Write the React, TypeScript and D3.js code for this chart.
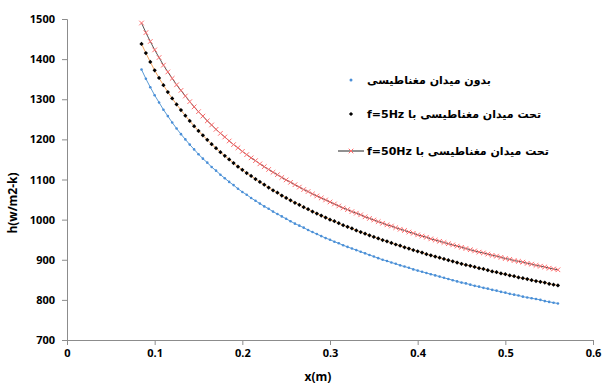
import * as d3 from 'd3';
import React, { useEffect, useRef } from 'react';

// x positions: 0.085 .. 0.56, step 0.005 (96 points)
const xValues: number[] = [
  0.085, 0.09, 0.095, 0.1, 0.105, 0.11, 0.115, 0.12, 0.125, 0.13, 0.135, 0.14, 0.145, 0.15, 0.155, 0.16,
  0.165, 0.17, 0.175, 0.18, 0.185, 0.19, 0.195, 0.2, 0.205, 0.21, 0.215, 0.22, 0.225, 0.23, 0.235, 0.24,
  0.245, 0.25, 0.255, 0.26, 0.265, 0.27, 0.275, 0.28, 0.285, 0.29, 0.295, 0.3, 0.305, 0.31, 0.315, 0.32,
  0.325, 0.33, 0.335, 0.34, 0.345, 0.35, 0.355, 0.36, 0.365, 0.37, 0.375, 0.38, 0.385, 0.39, 0.395, 0.4,
  0.405, 0.41, 0.415, 0.42, 0.425, 0.43, 0.435, 0.44, 0.445, 0.45, 0.455, 0.46, 0.465, 0.47, 0.475, 0.48,
  0.485, 0.49, 0.495, 0.5, 0.505, 0.51, 0.515, 0.52, 0.525, 0.53, 0.535, 0.54, 0.545, 0.55, 0.555, 0.56,
];

// بدون میدان مغناطیسی
const noField: number[] = [
  1374, 1351, 1330, 1310, 1292, 1274, 1258, 1242, 1227, 1213, 1200, 1187, 1175, 1163, 1152, 1142,
  1131, 1122, 1112, 1103, 1094, 1086, 1077, 1069, 1062, 1054, 1047, 1040, 1033, 1027, 1020, 1014,
  1008, 1002, 996, 990, 985, 980, 974, 969, 964, 959, 954, 950, 945, 941, 936, 932,
  928, 924, 920, 916, 912, 908, 904, 900, 897, 893, 890, 886, 883, 880, 876, 873,
  870, 867, 864, 861, 858, 855, 852, 849, 846, 843, 841, 838, 835, 833, 830, 828,
  825, 823, 820, 818, 815, 813, 811, 808, 806, 804, 802, 800, 797, 795, 793, 791,
];

// تحت میدان مغناطیسی با f=5Hz
const field5: number[] = [
  1438, 1415, 1393, 1372, 1353, 1335, 1318, 1302, 1287, 1273, 1259, 1246, 1233, 1221, 1210, 1199,
  1188, 1178, 1168, 1159, 1150, 1141, 1132, 1124, 1116, 1109, 1101, 1094, 1087, 1080, 1073, 1067,
  1060, 1054, 1048, 1042, 1037, 1031, 1026, 1020, 1015, 1010, 1005, 1000, 996, 991, 986, 982,
  978, 973, 969, 965, 961, 957, 953, 949, 946, 942, 938, 935, 931, 928, 924, 921,
  918, 914, 911, 908, 905, 902, 899, 896, 893, 890, 887, 885, 882, 879, 877, 874,
  871, 869, 866, 864, 861, 859, 856, 854, 852, 849, 847, 845, 843, 840, 838, 836,
];

// تحت میدان مغناطیسی با f=50Hz
const field50: number[] = [
  1490, 1466, 1444, 1423, 1404, 1385, 1368, 1352, 1336, 1322, 1308, 1294, 1281, 1269, 1258, 1246,
  1236, 1225, 1215, 1206, 1196, 1187, 1179, 1170, 1162, 1154, 1147, 1139, 1132, 1125, 1118, 1112,
  1105, 1099, 1093, 1087, 1081, 1075, 1070, 1064, 1059, 1054, 1049, 1044, 1039, 1034, 1029, 1025,
  1020, 1016, 1012, 1007, 1003, 999, 995, 991, 987, 984, 980, 976, 973, 969, 966, 962,
  959, 956, 952, 949, 946, 943, 940, 937, 934, 931, 928, 925, 922, 919, 917, 914,
  911, 909, 906, 903, 901, 898, 896, 894, 891, 889, 886, 884, 882, 879, 877, 875,
];

const xTicks: number[] = [0, 0.1, 0.2, 0.3, 0.4, 0.5, 0.6];
const yTicks: number[] = [700, 800, 900, 1000, 1100, 1200, 1300, 1400, 1500];

const legendLabels: string[] = [
  'بدون میدان مغناطیسی',
  'تحت میدان مغناطیسی با f=5Hz',
  'تحت میدان مغناطیسی با f=50Hz',
];

export default () => {
  const ref = useRef<any>();

  useEffect(() => {
    const svg = d3.select<any, any>(ref.current);
    svg.selectAll('*').remove();

    const width = 603;
    const height = 385;
    const margin = { top: 19, right: 10, bottom: 45, left: 67 };

    const x = d3.scaleLinear().domain([0, 0.6]).range([margin.left, 593]);
    const y = d3.scaleLinear().domain([700, 1500]).range([height - margin.bottom, margin.top]);

    svg.attr('width', width).attr('height', height);

    const font = "'Open Sans', 'DejaVu Sans', sans-serif";
    const axisColor = '#8c8c8c';

    // axes
    const xAxis = svg.append('g')
      .attr('transform', `translate(0, ${y(700)})`)
      .call(d3.axisBottom(x).tickValues(xTicks).tickSize(5).tickFormat((d: any) => d3.format('')(d)));
    const yAxis = svg.append('g')
      .attr('transform', `translate(${x(0)}, 0)`)
      .call(d3.axisLeft(y).tickValues(yTicks).tickSize(5).tickFormat(d3.format('d') as any));

    [xAxis, yAxis].forEach((a: any) => {
      a.select('.domain').attr('stroke', axisColor);
      a.selectAll('.tick line').attr('stroke', axisColor);
      a.selectAll('.tick text')
        .attr('fill', '#000')
        .style('font-family', font)
        .style('font-size', '11px')
        .style('font-weight', 'bold');
    });
    xAxis.selectAll('.tick text').attr('dy', '0.71em').attr('y', 9);
    yAxis.selectAll('.tick text').attr('x', -12);

    // axis titles
    svg.append('text')
      .attr('x', 318)
      .attr('y', 381)
      .attr('text-anchor', 'middle')
      .style('font-family', font)
      .style('font-size', '12px')
      .style('font-weight', 'bold')
      .text('x(m)');

    svg.append('text')
      .attr('transform', `translate(17, 203) rotate(-90)`)
      .attr('text-anchor', 'middle')
      .style('font-family', font)
      .style('font-size', '12px')
      .style('font-weight', 'bold')
      .text('h(w/m2-k)');

    const line = (vals: number[]) => d3.line<number>()
      .x((_, i) => x(xValues[i]))
      .y((d) => y(d))(vals);

    const plot = svg.append('g');

    // series 1: blue line + small dots
    plot.append('path').attr('d', line(noField) as any)
      .attr('fill', 'none').attr('stroke', '#5b9bd5').attr('stroke-width', 1);
    plot.selectAll('.s1').data(noField).join('circle')
      .attr('class', 's1')
      .attr('cx', (_, i) => x(xValues[i]))
      .attr('cy', (d) => y(d))
      .attr('r', 1.3)
      .attr('fill', '#4a8fd8');

    // series 2: orange line + black diamonds
    plot.append('path').attr('d', line(field5) as any)
      .attr('fill', 'none').attr('stroke', '#f4a460').attr('stroke-width', 1);
    const diamond = d3.symbol().type(d3.symbolSquare).size(9);
    plot.selectAll('.s2').data(field5).join('path')
      .attr('class', 's2')
      .attr('d', diamond as any)
      .attr('transform', (d, i) => `translate(${x(xValues[i])}, ${y(d)}) rotate(45)`)
      .attr('fill', '#000');

    // series 3: dark line + red crosses
    plot.append('path').attr('d', line(field50) as any)
      .attr('fill', 'none').attr('stroke', '#555').attr('stroke-width', 1);
    const cross = (g: any, cx: number, cy: number, s: number) => {
      g.append('path')
        .attr('d', `M${cx - s},${cy - s}L${cx + s},${cy + s}M${cx - s},${cy + s}L${cx + s},${cy - s}`)
        .attr('stroke', '#ff6b6b')
        .attr('stroke-width', 1)
        .attr('fill', 'none');
    };
    const s3 = plot.append('g');
    field50.forEach((d, i) => cross(s3, x(xValues[i]), y(d), 2.3));

    // legend
    const legend = svg.append('g');
    const ly = [80, 114, 151];
    legend.append('circle').attr('cx', 351).attr('cy', ly[0]).attr('r', 1.5).attr('fill', '#4a8fd8');
    legend.append('path').attr('d', diamond as any).attr('transform', `translate(351, ${ly[1]}) rotate(45)`).attr('fill', '#000');
    legend.append('line').attr('x1', 338).attr('x2', 364).attr('y1', ly[2]).attr('y2', ly[2])
      .attr('stroke', '#222').attr('stroke-width', 1);
    cross(legend, 351, ly[2], 2.3);

    legend.selectAll('.lt').data(legendLabels).join('text')
      .attr('class', 'lt')
      .attr('x', 367)
      .attr('y', (_, i) => ly[i])
      .attr('dy', '0.35em')
      .attr('direction', 'rtl')
      .attr('text-anchor', 'end')
      .style('font-family', "'DejaVu Sans', sans-serif")
      .style('font-size', '11px')
      .style('font-weight', 'bold')
      .text((d) => d);
  });

  return (
    <svg ref={ref} style={{ position: 'absolute', left: 0, top: 0, background: '#fff' }}></svg>
  );
};
